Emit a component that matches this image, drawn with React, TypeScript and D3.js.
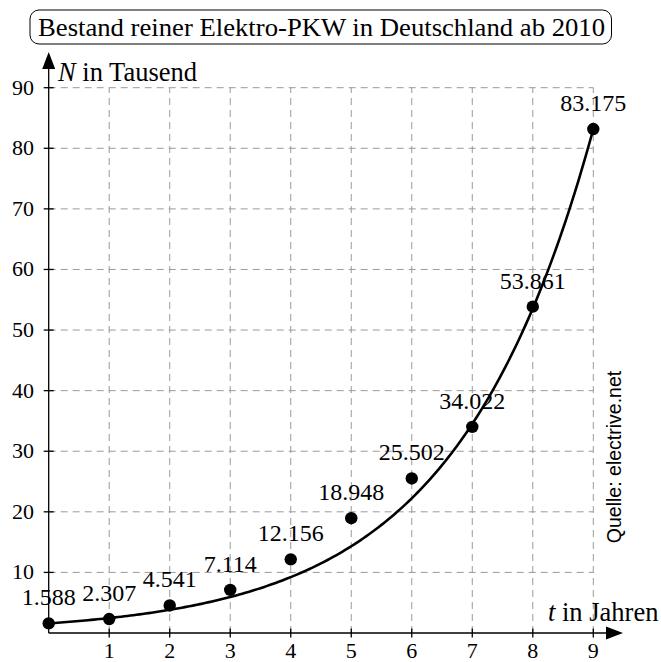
import React, { useEffect, useRef } from 'react';
import * as d3 from 'd3';

// Jahre ab 2010 und Bestand in Tausend
const years = [0, 1, 2, 3, 4, 5, 6, 7, 8, 9];
const stock = [1.588, 2.307, 4.541, 7.114, 12.156, 18.948, 25.502, 34.022, 53.861, 83.175];
const stockLabels = ['1.588', '2.307', '4.541', '7.114', '12.156', '18.948', '25.502', '34.022', '53.861', '83.175'];
const xTicks = [1, 2, 3, 4, 5, 6, 7, 8, 9];
const yTicks = [10, 20, 30, 40, 50, 60, 70, 80, 90];

const W = 661;
const H = 662;
const serif = '"Liberation Serif", "Times New Roman", serif';

const App: React.FC = () => {
  const ref = useRef<SVGSVGElement>(null);

  useEffect(() => {
    const svg = d3.select(ref.current);
    svg.selectAll('*').remove();

    const x = d3.scaleLinear().domain([0, 9]).range([48.7, 593.3]);
    const y = d3.scaleLinear().domain([0, 90]).range([633, 87.7]);

    // grid
    const grid = svg.append('g')
      .attr('stroke', '#9a9a9a')
      .attr('stroke-width', 1)
      .attr('stroke-dasharray', '7,5');
    grid.selectAll('line.v')
      .data(xTicks)
      .enter()
      .append('line')
      .attr('x1', d => x(d)).attr('x2', d => x(d))
      .attr('y1', y(0)).attr('y2', y(90));
    grid.selectAll('line.h')
      .data(yTicks)
      .enter()
      .append('line')
      .attr('x1', x(0)).attr('x2', x(9))
      .attr('y1', d => y(d)).attr('y2', d => y(d));

    // axes
    const axes = svg.append('g').attr('stroke', '#000').attr('stroke-width', 1.3);
    axes.append('line').attr('x1', x(0)).attr('x2', 610).attr('y1', y(0)).attr('y2', y(0));
    axes.append('line').attr('x1', x(0)).attr('x2', x(0)).attr('y1', y(0)).attr('y2', 65);
    svg.append('path')
      .attr('d', `M623,${y(0)} L606,${y(0) - 6.5} L606,${y(0) + 6.5} Z`)
      .attr('fill', '#000');
    svg.append('path')
      .attr('d', `M${x(0)},52 L${x(0) - 6.5},69 L${x(0) + 6.5},69 Z`)
      .attr('fill', '#000');

    axes.selectAll('line.xt')
      .data(xTicks)
      .enter()
      .append('line')
      .attr('x1', d => x(d)).attr('x2', d => x(d))
      .attr('y1', y(0) - 4.5).attr('y2', y(0) + 4.5);
    axes.selectAll('line.yt')
      .data(yTicks)
      .enter()
      .append('line')
      .attr('x1', x(0) - 5).attr('x2', x(0) + 5)
      .attr('y1', d => y(d)).attr('y2', d => y(d));

    svg.append('g')
      .attr('font-family', serif)
      .attr('font-size', 22)
      .attr('text-anchor', 'middle')
      .selectAll('text')
      .data(xTicks)
      .enter()
      .append('text')
      .attr('x', d => x(d))
      .attr('y', 658)
      .text(d => d);

    svg.append('g')
      .attr('font-family', serif)
      .attr('font-size', 22)
      .attr('text-anchor', 'end')
      .selectAll('text')
      .data(yTicks)
      .enter()
      .append('text')
      .attr('x', 34)
      .attr('y', d => y(d) + 7)
      .text(d => d);

    // exponential curve through first and last value
    const a = stock[0];
    const b = Math.pow(stock[stock.length - 1] / stock[0], 1 / 9);
    const curve = d3.range(0, 9.0001, 0.05).map(t => [t, a * Math.pow(b, t)] as [number, number]);
    svg.append('path')
      .datum(curve)
      .attr('fill', 'none')
      .attr('stroke', '#000')
      .attr('stroke-width', 2.6)
      .attr('d', d3.line<[number, number]>().x(d => x(d[0])).y(d => y(d[1])));

    svg.append('g')
      .selectAll('circle')
      .data(years)
      .enter()
      .append('circle')
      .attr('cx', d => x(d))
      .attr('cy', (d, i) => y(stock[i]))
      .attr('r', 6.2)
      .attr('fill', '#000');

    svg.append('g')
      .attr('font-family', serif)
      .attr('font-size', 24)
      .attr('text-anchor', 'middle')
      .selectAll('text')
      .data(years)
      .enter()
      .append('text')
      .attr('x', d => x(d))
      .attr('y', (d, i) => y(stock[i]) - 18)
      .text((d, i) => stockLabels[i]);

    // title
    svg.append('rect')
      .attr('x', 30).attr('y', 10)
      .attr('width', 581.5).attr('height', 34)
      .attr('rx', 9)
      .attr('fill', 'none')
      .attr('stroke', '#000')
      .attr('stroke-width', 1);
    svg.append('text')
      .attr('x', 38).attr('y', 36)
      .attr('font-family', serif)
      .attr('font-size', 25)
      .attr('textLength', 567)
      .attr('lengthAdjust', 'spacingAndGlyphs')
      .text('Bestand reiner Elektro-PKW in Deutschland ab 2010');

    const yl = svg.append('text')
      .attr('x', 58).attr('y', 81)
      .attr('font-family', serif)
      .attr('font-size', 26.5);
    yl.append('tspan').attr('font-style', 'italic').text('N');
    yl.append('tspan').text(' in Tausend');

    const xl = svg.append('text')
      .attr('x', 548).attr('y', 621)
      .attr('font-family', serif)
      .attr('font-size', 26.5);
    xl.append('tspan').attr('font-style', 'italic').text('t');
    xl.append('tspan').text(' in Jahren');

    svg.append('text')
      .attr('transform', 'translate(621,457) rotate(-90)')
      .attr('text-anchor', 'middle')
      .attr('font-family', '"Liberation Sans", Arial, sans-serif')
      .attr('font-size', 19.5)
      .text('Quelle: electrive.net');
  }, []);

  return (
    <svg
      ref={ref}
      width={W}
      height={H}
      style={{ position: 'absolute', left: 0, top: 0, background: '#fff' }}
    />
  );
};

export default App;
